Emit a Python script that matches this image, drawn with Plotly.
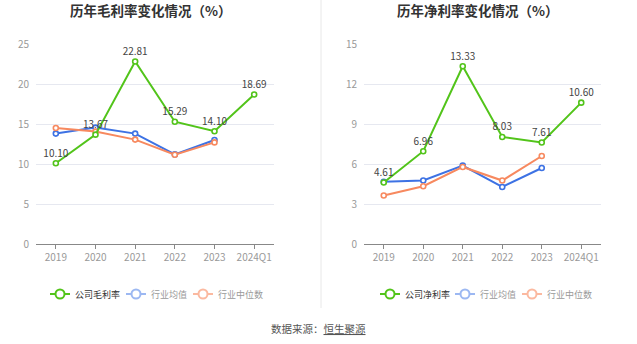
import plotly.graph_objects as go

categories = ["2019", "2020", "2021", "2022", "2023", "2024Q1"]

gross_company = [10.10, 13.67, 22.81, 15.29, 14.10, 18.69]
gross_ind_mean = [13.8, 14.55, 13.8, 11.2, 13.0, None]
gross_ind_median = [14.5, 14.05, 13.05, 11.15, 12.7, None]

net_company = [4.61, 6.96, 13.33, 8.03, 7.61, 10.60]
net_ind_mean = [4.66, 4.76, 5.88, 4.28, 5.70, None]
net_ind_median = [3.64, 4.33, 5.78, 4.76, 6.60, None]

left_title = "历年毛利率变化情况（%）"
right_title = "历年净利率变化情况（%）"
left_legend = ["公司毛利率", "行业均值", "行业中位数"]
right_legend = ["公司净利率", "行业均值", "行业中位数"]
left_ticks = [0, 5, 10, 15, 20, 25]
right_ticks = [0, 3, 6, 9, 12, 15]

GREEN = "#52c41a"
BLUE = "#3d72e4"
ORANGE = "#f7895f"
GREEN_L = "#52c41a"
BLUE_L = "#9cb8f2"
ORANGE_L = "#fbb9a0"

W, H = 637, 344
FONT = "Noto Sans CJK SC"

fig = go.Figure()

def add_series(y, color, xa, ya, labels=False):
    fig.add_trace(go.Scatter(
        x=categories, y=y, xaxis=xa, yaxis=ya,
        mode="lines+markers+text" if labels else "lines+markers",
        line=dict(color=color, width=2),
        marker=dict(symbol="circle", size=5, color="white",
                    line=dict(color=color, width=1.6)),
        text=[f"{v:.2f}" for v in y] if labels else None,
        textposition="top center",
        textfont=dict(family=FONT, size=10, color="#444"),
        showlegend=False, hoverinfo="skip", cliponaxis=False,
    ))

add_series(gross_ind_mean, BLUE, "x", "y")
add_series(gross_ind_median, ORANGE, "x", "y")
add_series(gross_company, GREEN, "x", "y", labels=True)
add_series(net_ind_mean, BLUE, "x2", "y2")
add_series(net_ind_median, ORANGE, "x2", "y2")
add_series(net_company, GREEN, "x2", "y2", labels=True)

ydom = [100 / H, 300 / H]
axis_common = dict(
    type="category", showgrid=False, showline=True, linecolor="#888",
    linewidth=1, ticks="outside", ticklen=4, tickcolor="#888",
    tickfont=dict(family=FONT, size=10, color="#999"), fixedrange=True,
    range=[-0.5, 5.5], automargin=False,
)
yaxis_common = dict(
    showgrid=True, gridcolor="#e6e8f0", gridwidth=1, zeroline=False,
    showline=False, tickfont=dict(family=FONT, size=10, color="#999"),
    ticks="", ticklabelstandoff=6, domain=ydom, fixedrange=True,
    automargin=False,
)

fig.update_layout(
    template="none",
    width=W, height=H, margin=dict(l=0, r=0, t=0, b=0, pad=0),
    paper_bgcolor="white", plot_bgcolor="white",
    xaxis=dict(domain=[36 / W, 274 / W], anchor="y", **axis_common),
    xaxis2=dict(domain=[364 / W, 601 / W], anchor="y2", **axis_common),
    yaxis=dict(anchor="x", range=[0, 25], tickvals=left_ticks, **yaxis_common),
    yaxis2=dict(anchor="x2", range=[0, 15], tickvals=right_ticks, **yaxis_common),
    showlegend=False,
    font=dict(family=FONT),
)

# titles
for cx, t in [(151, left_title), (478, right_title)]:
    fig.add_annotation(x=cx / W, y=1 - 10 / H, xref="paper", yref="paper",
                       text=f"<b>{t}</b>", showarrow=False,
                       font=dict(family=FONT, size=13.5, color="#333"),
                       xanchor="center", yanchor="middle")

# separator
fig.add_shape(type="line", xref="paper", yref="paper",
              x0=321 / W, x1=321 / W, y0=1, y1=1 - 308 / H,
              line=dict(color="#e8e8e8", width=1))

# legends (manual)
def legend_item(x, label, color, textcolor):
    yy = 1 - 294 / H
    fig.add_shape(type="line", xref="paper", yref="paper",
                  x0=(x - 10) / W, x1=(x + 10) / W, y0=yy, y1=yy,
                  line=dict(color=color, width=2))
    fig.add_shape(type="circle", xref="paper", yref="paper",
                  x0=(x - 4.5) / W, x1=(x + 4.5) / W,
                  y0=yy - 4.5 / H, y1=yy + 4.5 / H,
                  line=dict(color=color, width=2), fillcolor="white")
    fig.add_annotation(x=(x + 13) / W, y=yy, xref="paper", yref="paper",
                       text=label, showarrow=False, xanchor="left",
                       yanchor="middle",
                       font=dict(family=FONT, size=9, color=textcolor))

legend_item(60, left_legend[0], GREEN_L, "#333")
legend_item(136, left_legend[1], BLUE_L, "#999")
legend_item(203, left_legend[2], ORANGE_L, "#999")
legend_item(390, right_legend[0], GREEN_L, "#333")
legend_item(465, right_legend[1], BLUE_L, "#999")
legend_item(532, right_legend[2], ORANGE_L, "#999")

fig.add_annotation(x=319 / W, y=1 - 328 / H, xref="paper", yref="paper",
                   text="数据来源：<u>恒生聚源</u>", showarrow=False,
                   font=dict(family=FONT, size=10.5, color="#555"),
                   xanchor="center", yanchor="middle")

fig.write_html("out.html")
